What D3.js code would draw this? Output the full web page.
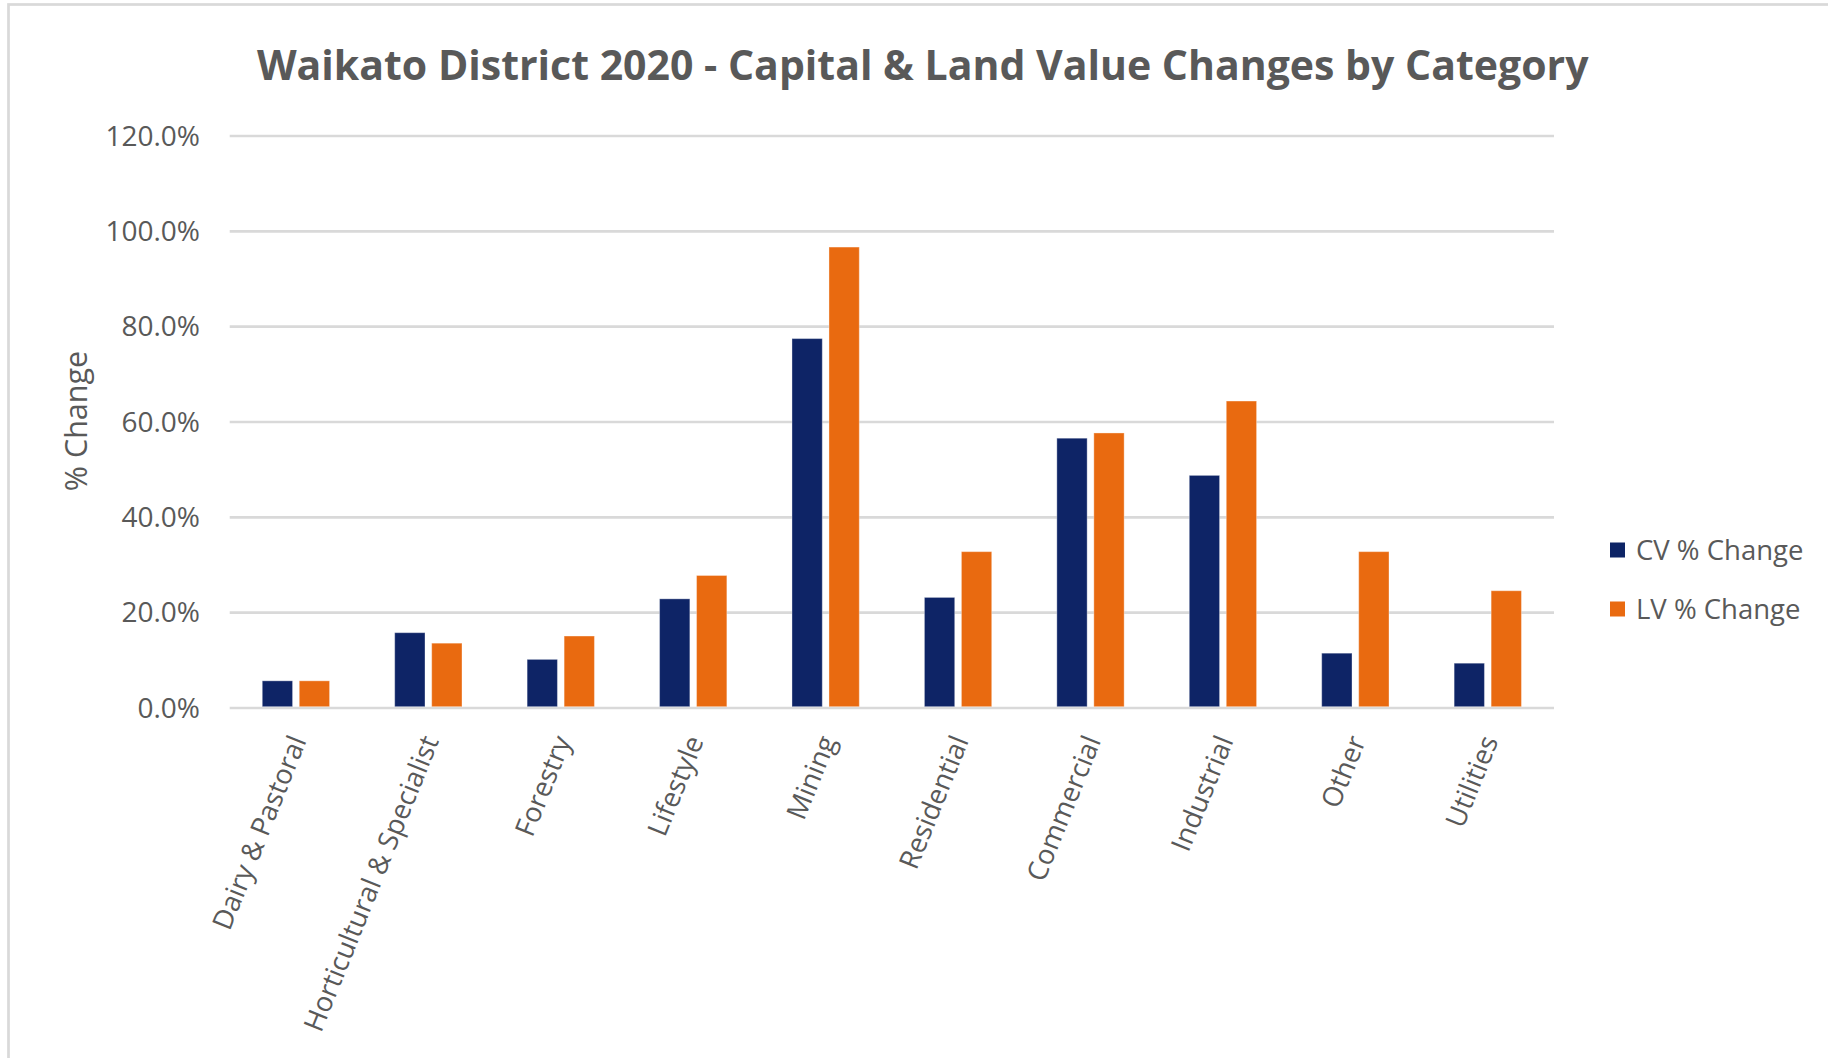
<!DOCTYPE html>
<html>
<head>
<meta charset="utf-8">
<script src="https://cdn.jsdelivr.net/npm/d3@7"></script>
<style>
  html, body { margin: 0; padding: 0; background: #fff; }
  svg { display: block; }
  text { font-family: "Open Sans", "Noto Sans", "DejaVu Sans", sans-serif; }
</style>
</head>
<body>
<svg id="chart" width="1828" height="1058"></svg>
<script>
const categories = ["Dairy & Pastoral", "Horticultural & Specialist", "Forestry", "Lifestyle", "Mining",
                    "Residential", "Commercial", "Industrial", "Other", "Utilities"];
const seriesNames = ["CV % Change", "LV % Change"];
const cvValues = [0.057, 0.158, 0.102, 0.229, 0.775, 0.232, 0.566, 0.488, 0.115, 0.094];
const lvValues = [0.057, 0.136, 0.151, 0.278, 0.967, 0.328, 0.577, 0.644, 0.328, 0.246];
const yTicks = [0, 0.2, 0.4, 0.6, 0.8, 1.0, 1.2];
const seriesColors = ["#0E2466", "#E96A10"];
const titleText = "Waikato District 2020 - Capital & Land Value Changes by Category";
const yAxisTitle = "% Change";

const svg = d3.select("#chart");
const W = 1828, H = 1058;
const textColor = "#595959";
const gridColor = "#D9D9D9";

svg.append("rect").attr("width", W).attr("height", H).attr("fill", "#fff");
// outer border (top + left visible)
svg.append("rect")
  .attr("x", 8.5).attr("y", 4.5).attr("width", W + 20).attr("height", H + 20)
  .attr("fill", "none").attr("stroke", gridColor).attr("stroke-width", 2.7);

const plotLeft = 229.7, plotRight = 1554;
const y = d3.scaleLinear().domain([0, 1.2]).range([708, 136]);
const x = d3.scaleBand().domain(categories).range([plotLeft, plotRight]).paddingInner(0).paddingOuter(0);
const inner = d3.scaleBand().domain(seriesNames).range([-33.65, 33.65]).paddingInner(0.181).paddingOuter(0);

// gridlines
svg.append("g").selectAll("line").data(yTicks).join("line")
  .attr("x1", plotLeft).attr("x2", plotRight)
  .attr("y1", d => y(d)).attr("y2", d => y(d))
  .attr("stroke", gridColor).attr("stroke-width", 2.7);

// y axis labels
const fmt = d3.format(".1%");
svg.append("g").selectAll("text").data(yTicks).join("text")
  .attr("x", 200).attr("y", d => y(d)).attr("dy", "0.35em")
  .attr("text-anchor", "end").attr("font-size", 28).attr("fill", textColor)
  .text(d => fmt(d));

// y axis title
svg.append("text")
  .attr("transform", "translate(87,421) rotate(-90)")
  .attr("text-anchor", "middle").attr("font-size", 30.5).attr("fill", textColor)
  .text(yAxisTitle);

// bars
const seriesData = [cvValues, lvValues];
seriesNames.forEach((s, si) => {
  svg.append("g").selectAll("rect").data(categories).join("rect")
    .attr("x", (c) => x(c) + x.bandwidth() / 2 + inner(s))
    .attr("width", inner.bandwidth())
    .attr("y", (c, i) => y(seriesData[si][i]))
    .attr("height", (c, i) => y(0) - 1.3 - y(seriesData[si][i]))
    .attr("fill", seriesColors[si])
    .attr("stroke", "#ffffff").attr("stroke-opacity", 0.35).attr("stroke-width", 1);
});

// x labels
svg.append("g").selectAll("text").data(categories).join("text")
  .attr("transform", c => `translate(${x(c) + x.bandwidth() / 2 + 2},${737}) rotate(-68)`)
  .attr("text-anchor", "end").attr("dy", "0.35em")
  .attr("font-size", 27.5).attr("fill", textColor)
  .text(c => c);

// legend
const legend = svg.append("g");
seriesNames.forEach((s, i) => {
  const cy = 550 + i * 59;
  legend.append("rect").attr("x", 1610).attr("y", cy - 7.5).attr("width", 15).attr("height", 15)
    .attr("fill", seriesColors[i]);
  legend.append("text").attr("x", 1636).attr("y", cy).attr("dy", "0.35em")
    .attr("font-size", 27.5).attr("fill", textColor).text(s);
});

// title: size chosen so the text spans the reference width
const title = svg.append("text")
  .attr("x", 922.7).attr("y", 80)
  .attr("text-anchor", "middle").attr("font-size", 37).attr("font-weight", "bold")
  .attr("fill", textColor).text(titleText);
const tw = title.node().getComputedTextLength();
title.attr("font-size", 37 * 1332 / tw);
</script>
</body>
</html>
